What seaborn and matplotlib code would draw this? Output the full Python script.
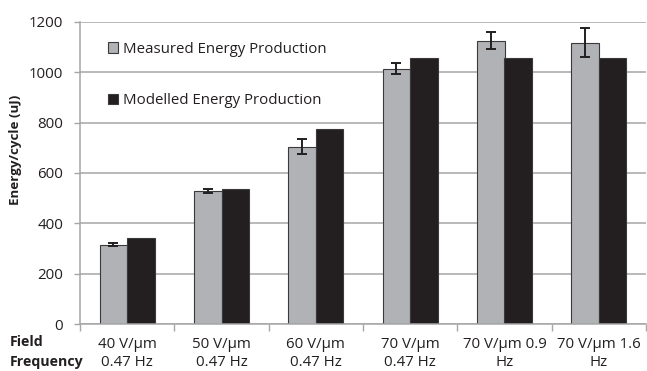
import matplotlib
matplotlib.use("Agg")
import matplotlib.pyplot as plt
import seaborn as sns
import pandas as pd
import numpy as np

# Test conditions (field strength / frequency)
conditions = ["40 V/μm\n0.47 Hz", "50 V/μm\n0.47 Hz", "60 V/μm\n0.47 Hz",
              "70 V/μm\n0.47 Hz", "70 V/μm 0.9\nHz", "70 V/μm 1.6\nHz"]
measured = [314, 528, 705, 1015, 1125, 1117]
measured_err = [6, 7, 30, 21, 34, 58]
modelled = [343, 538, 776, 1057, 1057, 1057]
series = ["Measured Energy Production", "Modelled Energy Production"]

df = pd.DataFrame({
    "condition": conditions * 2,
    "energy": measured + modelled,
    "series": [series[0]] * len(conditions) + [series[1]] * len(conditions),
})

sns.set_theme(style="white")
plt.rcParams["font.family"] = ["Open Sans", "DejaVu Sans"]

FS = 10.8
TXT = "#231f20"

fig = plt.figure(figsize=(6.47, 3.71), dpi=100)
ax = fig.add_axes([80 / 647, 47 / 371, 566 / 647, 302 / 371])

palette = {series[0]: "#b1b2b5", series[1]: "#231f20"}
sns.barplot(data=df, x="condition", y="energy", hue="series", palette=palette,
            width=0.58, saturation=1, edgecolor="#3a3a3a", linewidth=0.8,
            errorbar=None, ax=ax)

# Error bars on the measured series
meas_bars = [p for p in ax.patches if p.get_height() > 0][:len(conditions)]
meas_bars = sorted(meas_bars, key=lambda p: p.get_x())
xs = [p.get_x() + p.get_width() / 2 for p in meas_bars]
ax.errorbar(xs, measured, yerr=measured_err, fmt="none", ecolor=TXT,
            elinewidth=1.4, capsize=3.5, capthick=1.4, zorder=5)

ax.set_ylim(0, 1200)
ax.set_xlim(-0.5, len(conditions) - 0.5)
ax.set_yticks(np.arange(0, 1201, 200))
ax.yaxis.grid(True, color="#a6a6a6", linewidth=1.1)
ax.set_axisbelow(True)
ax.set_xlabel("")
ax.set_ylabel("Energy/cycle (uJ)", fontsize=9.6, fontweight="bold", color=TXT)
ax.yaxis.set_label_coords(-58 / 566, 0.576)

for s in ["top", "right"]:
    ax.spines[s].set_visible(False)
for s in ["left", "bottom"]:
    ax.spines[s].set_color("#a6a6a6")
    ax.spines[s].set_linewidth(1.1)

ax.tick_params(axis="y", left=True, length=4, width=1, color="#a6a6a6",
               labelsize=FS, labelcolor=TXT, pad=8)
ax.tick_params(axis="x", bottom=False, labelsize=FS, labelcolor=TXT, pad=3)
ax.set_xticks(np.arange(-0.5, len(conditions) - 0.4, 1.0), minor=True)
ax.tick_params(axis="x", which="minor", bottom=True, length=5, width=1, color="#a6a6a6")
ax.set_xticklabels(conditions, linespacing=1.3)

fig.text(10 / 647, 1 - 342 / 371, "Field", fontsize=10.2, fontweight="bold",
         color=TXT, va="center")
fig.text(10 / 647, 1 - 362 / 371, "Frequency", fontsize=10.2, fontweight="bold",
         color=TXT, va="center")

ax.legend(loc="upper left", bbox_to_anchor=(0.025, 0.98), frameon=False,
          fontsize=FS, handlelength=0.7, handleheight=0.7, handletextpad=0.3,
          labelspacing=2.45, labelcolor=TXT)

fig.savefig("out.png", dpi=100)
